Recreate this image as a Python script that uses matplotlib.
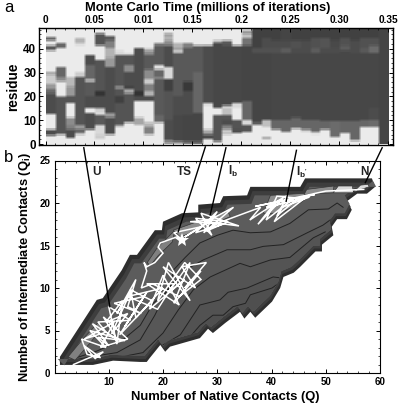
import numpy as np
import matplotlib
matplotlib.use('Agg')
import matplotlib.pyplot as plt
from matplotlib.patches import Polygon
from matplotlib.ticker import MultipleLocator

plt.rcParams['font.family'] = ['Liberation Sans', 'DejaVu Sans']
plt.rcParams['mathtext.fontset'] = 'custom'
plt.rcParams['mathtext.bf'] = 'Liberation Sans:bold'
plt.rcParams['mathtext.rm'] = 'Liberation Sans'

L = 0.92  # unfolded residue
D = 0.28  # folded residue

# panel a: one list per time slice, (upper residue, grey) going up from residue 0
slices = [
    [(3.5, L), (6, .3), (12.5, L), (21, .3), (23, .42), (25, .6), (29, .8), (30, .6), (39, L), (41, .35), (43, L), (44.5, .4), (49, L)],
    [(4, L), (19.5, .33), (20, .6), (26, L), (28, .55), (32, .4), (40, L), (42, .4), (49, L)],
    [(2.5, L), (6, .3), (8, .5), (11, .55), (17, L), (20, .33), (24, .6), (28, .72), (49, L)],
    [(4, L), (5, .6), (6, .3), (8, .6), (19, .33), (28, .33), (30, .8), (41, L), (42, .85), (44, .7), (49, L)],
    [(6, L), (13, .3), (15, L), (20, .3), (26, .35), (27, .8), (33, .4), (37, .3), (49, L)],
    [(2, L), (4, .8), (8, .85), (12, .35), (14, .85), (15, .75), (20, .3), (22, .2), (35, .33), (41, L), (46, .33), (49, L)],
    [(4, L), (11, .3), (13, .6), (32, .3), (36, .6), (40, .7), (43, .5), (45, .35), (49, L)],
    [(7, L), (8, .7), (17, .33), (20, .25), (23, .33), (24, .6), (37, .33), (39, .85), (49, L)],
    [(9, L), (21, .33), (23, .65), (24, .25), (30, .3), (33, .55), (37, .33), (38, .85), (49, L)],
    [(8, L), (11, .65), (18, L), (20, .3), (22, .2), (40, .3), (49, L)],
    [(4, L), (7, .5), (9, .7), (18, L), (20, .3), (22, .7), (25, .5), (27, .8), (31, .55), (37, .35), (39, .55), (40, .8), (49, L)],
    [(9, L), (12, .4), (27, .35), (28, .55), (31, .4), (33, .88), (41, .35), (42, .5), (49, L)],
    [(1.5, .6), (10, .3), (22, .33), (27, .25), (32, .85), (41, .3), (43, .55), (45, .7), (46, .6), (49, L)],
    [(1, .7), (12, .28), (20, .3), (38, .35), (39, .85), (40, .6), (42, .7), (49, L)],
    [(1, .5), (12, .27), (22, .3), (26, .22), (40, .35), (42, .5), (49, L)],
    [(1, .45), (13, .27), (30, .4), (41, .35), (49, L)],
    [(2, L), (4, .3), (6, .65), (16, L), (17, .85), (41, .3), (49, L)],
    [(1, L), (12, .33), (15, L), (42, .28), (43, .6), (49, L)],
    [(4, L), (5, .7), (6, .85), (8, .5), (10, .3), (12, .33), (15, .75), (16, .85), (41, .28), (43, .35), (49, L)],
    [(4.5, L), (6, .3), (10, .33), (15, L), (17, .85), (41, .28), (49, L)],
    [(5, L), (8, .33), (10, .85), (18, .4), (41, .27), (44, .45), (46, .75), (47, .5), (49, L)],
    [(8, L), (9, .4), (38, .27), (40, .32), (49, .26)],
    [(2, L), (3, .6), (7, L), (10, .75), (38, .27), (40, .32), (44, .3), (49, .26)],
    [(6, L), (10, .4), (38, D), (40, .32), (43, .3), (49, .26)],
    [(5, L), (10, .4), (38, D), (40, .36), (43, .3), (49, .27)],
    [(6.2, L), (11, .4), (38, D), (40, .3), (43, .32), (49, .26)],
    [(5, L), (6, .8), (10, .4), (38, D), (40, .3), (43, .3), (49, .26)],
    [(3.8, L), (5, .85), (10, .4), (38, D), (40, .36), (44, .32), (49, .26)],
    [(6, L), (9.5, .4), (38, D), (40, .3), (44, .33), (49, .26)],
    [(2.7, L), (9.5, .42), (38, D), (40, .3), (43, .29), (49, .26)],
    [(4.2, L), (9.5, .4), (38, D), (39, .28), (41, .36), (44, .32), (49, .26)],
    [(1.3, L), (9.5, .4), (38, D), (40, .3), (43, .3), (49, .26)],
    [(7, L), (10, .4), (38, D), (40, .35), (44, .32), (49, .26)],
    [(7, L), (10, .42), (15, .3), (38, D), (41, .42), (44, .32), (49, .26)],
    [(49, .27)],
]
time_ticks = [0, .05, .10, .15, .20, .25, .30, .35]
time_labels = ['0', '0.05', '0.01', '0.15', '0.2', '0.25', '0.30', '0.35']

# panel b: outline of the sampled landscape, upper edge then lower edge back
edge_top_q = [1.0, 7.8, 8.9, 12.4, 13.9, 15.2, 18.5, 19.8, 20, 23.5, 26.5, 26.5, 30.5, 31.1, 35.5, 36.1, 45.3, 46.2, 58.5]
edge_top_qi = [1.9, 8.6, 8.8, 12.1, 13.9, 13.9, 16.8, 16.8, 17.8, 18.8, 18.9, 19.8, 20, 20.8, 20.9, 21.9, 21.9, 22.9, 22.9]
edge_low_q = [59.1, 57.6, 55.8, 53.9, 54.8, 53.9, 52.1, 51.1, 51.4, 49.3, 49.3, 48.1, 45.3, 44.1, 42.2, 41.6, 40.1, 37, 36.1, 35, 34.2, 31.5, 29.2, 28.3, 26.8, 21.3, 20.4, 19.5, 17.6, 17, 15.8, 10.8, 7.1, 1]
edge_low_qi = [21.9, 21.1, 21.1, 20.2, 19.2, 18.1, 18.1, 17.2, 16.2, 15.1, 14.3, 14.3, 12.5, 11.8, 11.3, 10, 8.4, 6.5, 7.2, 6.4, 7.2, 5.9, 4.7, 5.2, 4.1, 3.1, 2.5, 3.3, 1.8, 1.3, 1.3, 1.45, .95, .95]

# contour lines, top one first
contours = [
    ([2.5, 7.5, 12.6, 15.8, 18.2, 21.3, 21.9, 24.1, 26.8, 30, 32.9, 36.1, 39.8, 43.4, 46.8, 50.5, 52.1, 53.2],
     [1.5, 2.5, 3.9, 5.6, 8.2, 10, 12.1, 13.6, 15.3, 16.2, 16.8, 16.5, 16.6, 17.6, 19.2, 19.3, 20, 19.5]),
    ([2.5, 7.5, 11.5, 15.8, 18.5, 20.8, 24.1, 27.4, 31.8, 36.1, 38.5, 42.2, 46.6, 49.5, 50.8, 52.7],
     [1.4, 2, 2.4, 3.9, 6.8, 9.8, 12.1, 13.3, 14.5, 14.5, 14.9, 15.1, 16.5, 17.4, 18, 18.6]),
    ([2.9, 11.5, 16.3, 20, 22.8, 25.6, 28.7, 34.2, 36.1, 39.8, 43.4, 47.7, 49.9],
     [1.3, 1.8, 2.4, 4.7, 7.4, 9.8, 11.3, 12.9, 12.5, 13.3, 13.6, 15.9, 16.6]),
    ([3.2, 13, 17.6, 19.5, 23.2, 26.8, 30.5, 32, 35.5, 40.3, 41.6, 45.3, 47.5],
     [1.2, 1.5, 1.8, 3.1, 4.5, 8, 8.6, 9.5, 10, 11.3, 11.2, 13.3, 14.2]),
    ([13.9, 19.5, 24.1, 26.8, 29.2, 31.1, 32.9, 35.2, 36.1, 40.1, 43.4],
     [1.3, 2.1, 3.6, 5.6, 6.8, 6.8, 7.8, 8.2, 9.2, 10, 11.5]),
    ([20.4, 27.8, 32.4, 37.9, 40.7],
     [2.5, 4.8, 6.5, 7.4, 8.9]),
]
band_greys = [.35, .34, .33, .32, .31, .30]

# low free energy basins
basins = [
    ([2.5, 5.1, 8, 8.8, 6.5, 3.8], [1.9, 3.9, 5.9, 5.3, 3.5, 1.5], .5),
    ([17.1, 18.9, 22.2, 21.7, 19.1, 17.6], [13, 14.7, 16.8, 15.4, 13.8, 12.6], .5),
    ([21.9, 26.3, 30, 31.8, 32.4, 28.1, 23.2], [16.8, 17.8, 18.6, 19.2, 18.4, 17.2, 16], .55),
    ([39.8, 47.7, 45.3, 41.6, 38.5], [20.9, 21.2, 20, 18.8, 18.8], .55),
    ([46.5, 51.5, 51.4, 46], [21.6, 22, 21.2, 21], .55),
    ([51.4, 52.3, 54.9, 55.1, 56.4, 57.8, 58, 56, 54.9], [21.2, 22, 22, 21.3, 22.1, 22.2, 21.9, 21.5, 21.2], .85),
]

# white folding trajectory
traj_q = [3.5, 9, 7.5, 5.5, 8.5, 6, 5, 9.5, 6.5, 13, 8, 10, 7, 11.5, 9, 13.5, 8.5, 11, 5.5, 9.5, 8, 14, 10, 11.5, 12.5,
          9.5, 13.5, 10.5, 14, 11.5, 15, 13.5, 16, 11, 16.5, 13, 17, 12, 18, 14, 15, 20, 13.5, 19, 22, 17, 23, 20, 17.5,
          24, 21, 25, 22, 27, 24, 28, 23.5, 26, 20, 25, 21, 19, 24, 27, 23, 18, 16, 17, 16.5,
          17, 18.5, 20, 19.1, 19.5, 22.5, 23.5, 22, 27, 24, 29, 25, 31, 26, 30, 27.5, 33, 28, 34, 27, 29, 26, 32, 28, 30,
          38, 36, 42, 37.5, 40, 44, 39, 41, 46, 40.5, 42, 47, 39, 43, 41, 45, 48, 37, 50, 57]
traj_qi = [1, 2.5, 1.7, 3.2, 1.8, 2.2, 4, 3, 5, 3.8, 4.2, 3.2, 5.8, 4, 6.6, 4, 3, 6, 4, 4.8, 6, 6.2, 7.8, 3.4, 8.5,
           6, 7, 4.6, 9.5, 7, 11, 7.8, 7, 8.2, 9, 5.5, 9.5, 4.5, 8.5, 9.8, 6.5, 10, 9, 7.5, 10.5, 10.5, 8, 11.5, 7.5,
           11, 9.5, 13, 8.2, 12, 10, 13, 12.5, 10, 12.5, 8.5, 13, 8.5, 13, 11, 9, 10.5, 10, 12, 13,
           12.5, 13, 14.1, 14.8, 15.3, 16, 15.7, 16.5, 17.2, 16, 18, 17.8, 17.5, 16.5, 19, 16.5, 19.5, 17.8, 17.3, 18.8, 16.2, 18.2, 17.8, 16.7, 17.6,
           19.5, 18, 20.5, 17.5, 19.5, 20.5, 18, 20.8, 20.5, 17.8, 19.5, 20.7, 19.5, 20.9, 18.5, 20.6, 21, 19.6, 21.4, 21.6]
star_q = [23.5]
star_qi = [15.7]

# state labels with the line going up to panel a
states = ['U', 'TS', 'I$_{\\mathbf{b}}$', "I$_{\\mathbf{b'}}$", 'N']
state_q = [7.7, 23.9, 33, 45.6, 57.1]
state_qi = [23.7, 23.7, 23.7, 23.6, 23.6]
pointer_q = [(5.4, 10.2), (27.8, 22.8), (31.6, 28.7), (44.6, 42.7), (60.4, 57.3)]
pointer_qi = [(26.5, 7.8), (26.6, 16.6), (26.5, 18.6), (26.2, 20.2), (26.5, 22.4)]


def shifted(q, qi, dq, dqi):
    return np.array(q) + dq, np.array(qi) + dqi


def soften(img):
    # the scan is a bit soft, blur a little along both directions
    kernel = np.ones(3) / 3
    pad = np.pad(img, 1, mode='edge')
    pad = np.apply_along_axis(np.convolve, 0, pad, kernel, mode='same')
    pad = np.apply_along_axis(np.convolve, 1, pad, kernel, mode='same')
    return pad[1:-1, 1:-1]


W, H = 400, 404
fig = plt.figure(figsize=(W / 100, H / 100), dpi=100)

# ---- panel a
axa = fig.add_axes([39 / W, (H - 145) / H, 354 / W, 117 / H])
edges = np.arange(0, 49.5, 0.5)
cells = np.ones((len(edges) - 1, len(slices)))
for c, runs in enumerate(slices):
    low = 0
    for up, grey in runs:
        cells[(edges[:-1] >= low) & (edges[:-1] < up), c] = grey
        low = up
axa.imshow(soften(np.repeat(cells, 10, axis=1)), cmap='gray', vmin=0, vmax=1, origin='lower', aspect='auto',
           extent=[0, .35, 0, 49], interpolation='nearest')
axa.set_xlim(-.0067, .3551)
axa.set_ylim(-.4, 48.7)
axa.set_xticks(time_ticks)
axa.set_xticklabels(time_labels, fontsize=7.3, fontweight='bold')
axa.xaxis.set_minor_locator(MultipleLocator(.01))
axa.set_yticks([0, 10, 20, 30, 40])
axa.set_yticklabels(['0', '10', '20', '30', '40'], fontsize=8.4, fontweight='bold')
axa.yaxis.set_minor_locator(MultipleLocator(2))
axa.tick_params(axis='x', which='both', top=True, bottom=True, labeltop=True, labelbottom=False,
                direction='in', pad=2)
axa.tick_params(axis='y', which='both', left=True, right=True, direction='in', pad=2)
axa.tick_params(which='major', length=3, width=.7)
axa.tick_params(which='minor', length=1.5, width=.5)
for s in axa.spines.values():
    s.set_linewidth(1)
axa.set_ylabel('residue', fontsize=9.8, fontweight='bold', labelpad=2)
fig.text(208 / W, 1 - 8 / H, 'Monte Carlo Time (millions of iterations)', fontsize=9.3,
         fontweight='bold', ha='center', va='center')
fig.text(4 / W, 1 - 8 / H, 'a', fontsize=12, va='center')
fig.text(4 / W, 1 - 158 / H, 'b', fontsize=12, va='center')

# ---- panel b
axb = fig.add_axes([54.5 / W, (H - 373) / H, 325.5 / W, 212.5 / H])
axb.set_xlim(0, 60)
axb.set_ylim(0, 25)

layers = [(0, 0, 0, '#2e2e2e'), (.4, -.5, .35, '#3e3e3e'), (.8, -1, .7, '#5c5c5c')]
surface = None
for dq, dtop, dlow, col in layers:
    tq, tqi = shifted(edge_top_q, edge_top_qi, dq, dtop)
    lq, lqi = shifted(edge_low_q, edge_low_qi, -dq / 2, dlow)
    surface = Polygon(np.column_stack([np.r_[tq, lq], np.r_[tqi, lqi]]), closed=True, fc=col, ec='none', zorder=1)
    axb.add_patch(surface)

for (cq, cqi), grey in zip(contours, band_greys):
    shade = axb.fill(np.r_[cq, 60], np.r_[cqi, 0], color=str(grey), lw=0, zorder=2)[0]
    shade.set_clip_path(surface)
    line = axb.plot(cq, cqi, color='#222222', lw=.7, zorder=3)[0]
    line.set_clip_path(surface)

for bq, bqi, grey in basins:
    axb.fill(bq, bqi, fc=str(grey), ec='#333333', lw=.5, zorder=4)

axb.plot(traj_q, traj_qi, color='white', lw=1.1, solid_joinstyle='miter', zorder=5)
axb.plot(star_q, star_qi, marker='*', color='white', ms=10, mew=0, ls='none', zorder=6)

for pq, pqi in zip(pointer_q, pointer_qi):
    axb.plot(pq, pqi, color='black', lw=1, clip_on=False, zorder=7)
for name, q, qi in zip(states, state_q, state_qi):
    axb.text(q, qi, name, fontsize=8.5, ha='center', va='center', fontweight='bold', color='#222222', zorder=8)

axb.set_xticks([10, 20, 30, 40, 50, 60])
axb.set_yticks([0, 5, 10, 15, 20, 25])
axb.set_xticklabels(['10', '20', '30', '40', '50', '60'], fontsize=7, fontweight='bold')
axb.set_yticklabels(['0', '5', '10', '15', '20', '25'], fontsize=7, fontweight='bold')
axb.xaxis.set_minor_locator(MultipleLocator(2))
axb.yaxis.set_minor_locator(MultipleLocator(1))
axb.tick_params(which='both', top=True, right=True, direction='in', pad=3)
axb.tick_params(which='major', length=3, width=.7)
axb.tick_params(which='minor', length=1.5, width=.5)
axb.set_xlabel('Number of Native Contacts (Q)', fontsize=9.4, fontweight='bold', labelpad=3, x=.525)
axb.set_ylabel('Number of Intermediate Contacts (Q$_{\\mathbf{i}}$)', fontsize=9.3, fontweight='bold', labelpad=5, y=.5)

fig.savefig('out.png', dpi=100)
